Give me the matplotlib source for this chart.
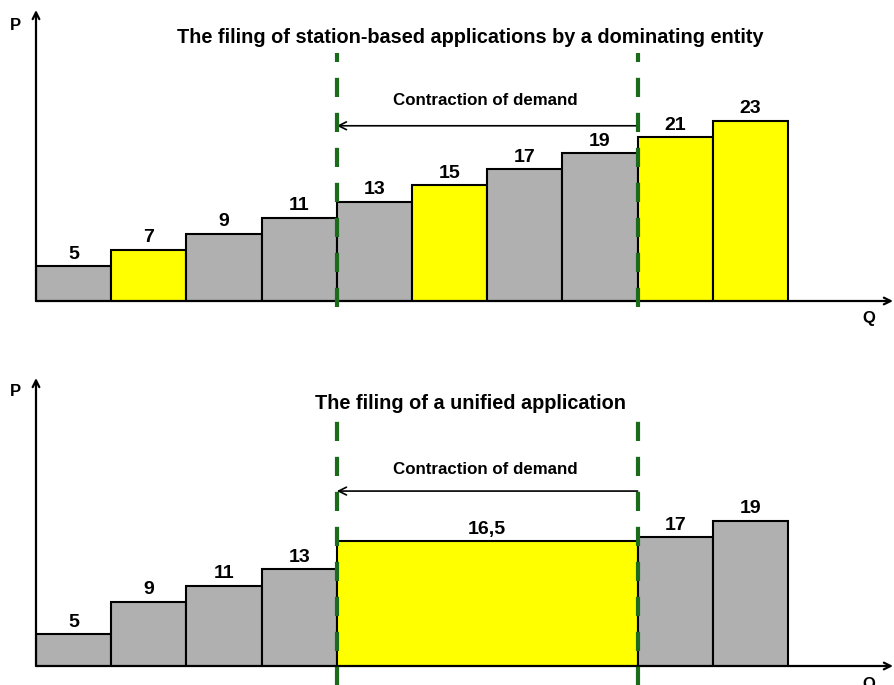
import matplotlib
matplotlib.use("Agg")
import matplotlib.pyplot as plt

plt.rcParams['font.family'] = ['Liberation Sans', 'DejaVu Sans']

# Upper panel: each applicant's bid as a separate bar
top_values = [5, 7, 9, 11, 13, 15, 17, 19, 21, 23]
top_labels = ["5", "7", "9", "11", "13", "15", "17", "19", "21", "23"]
top_widths = [1, 1, 1, 1, 1, 1, 1, 1, 1, 1]
top_yellow = [False, True, False, False, False, True, False, False, True, True]

# Lower panel: the dominating entity's bids merged into one application
bot_values = [5, 9, 11, 13, 16.5, 17, 19]
bot_labels = ["5", "9", "11", "13", "16,5", "17", "19"]
bot_widths = [1, 1, 1, 1, 4, 1, 1]
bot_yellow = [False, False, False, False, True, False, False]

titles = ["The filing of station-based applications by a dominating entity",
          "The filing of a unified application"]
band = (4, 8)

GRAY = "#b0b0b0"
YELLOW = "#ffff00"
GREEN = "#1b6b1b"

fig = plt.figure(figsize=(8.95, 6.85), dpi=100)

W, H = 895, 685
x0_px, x1_px = 36, 893
unit_px = 75.2


def make_axes(base_px, top_px, scale, base_val):
    ax = fig.add_axes([x0_px / W, (H - base_px) / H,
                       (x1_px - x0_px) / W, (base_px - top_px) / H])
    ax.set_xlim(0, (x1_px - x0_px) / unit_px)
    ax.set_ylim(base_val, base_val + (base_px - top_px) / scale)
    ax.set_axis_off()
    return ax


def draw_panel(ax, values, labels, widths, yellow, title, title_y, text_y, arrow_y,
               dash_lo, dash_hi, q_y, p_y):
    lefts = [sum(widths[:i]) for i in range(len(widths))]
    colors = [YELLOW if y else GRAY for y in yellow]
    ax.bar(lefts, values, width=widths, align='edge', color=colors,
           edgecolor='black', linewidth=1.5, zorder=2)
    for l, w, v, s in zip(lefts, widths, values, labels):
        ax.annotate(s, (l + w / 2, v), xytext=(0, 2.5), textcoords='offset points',
                    ha='center', va='bottom', fontsize=14, fontweight='bold', zorder=5)
    # axes with arrow heads
    ax.annotate("", xy=(0, 1), xytext=(0, 0), xycoords='axes fraction',
                arrowprops=dict(arrowstyle='->', lw=1.6, color='black',
                                shrinkA=0, shrinkB=0, mutation_scale=12),
                annotation_clip=False)
    ax.annotate("", xy=(1, 0), xytext=(0, 0), xycoords='axes fraction',
                arrowprops=dict(arrowstyle='->', lw=1.6, color='black',
                                shrinkA=0, shrinkB=0, mutation_scale=12),
                annotation_clip=False)
    ax.text(-0.28, p_y, "P", ha='center', va='center', fontsize=12,
            fontweight='bold', clip_on=False)
    ax.text(11.08, q_y, "Q", ha='center', va='center', fontsize=12,
            fontweight='bold', clip_on=False)
    # boundaries of the contraction band
    for xb in band:
        ax.plot([xb, xb], [dash_lo, dash_hi], color=GREEN, lw=3.0,
                linestyle=(0, (4.6, 3.8)), zorder=4, clip_on=False)
    ax.text(5.98, text_y, "Contraction of demand", ha='center',
            va='center', fontsize=12.2, fontweight='bold')
    ax.annotate("", xy=(band[0], arrow_y), xytext=(band[1], arrow_y),
                arrowprops=dict(arrowstyle='->', lw=1.2, color='black',
                                shrinkA=0, shrinkB=0, mutation_scale=14))
    ax.text(5.78, title_y, title, ha='center', va='center', fontsize=14.3,
            fontweight='bold')


# upper panel: baseline at 301 px, 8.06 px per unit
ax1 = make_axes(301, 10, 8.06, 0.66)
draw_panel(ax1, top_values, top_labels, top_widths, top_yellow, titles[0],
           title_y=33.4, text_y=25.5, arrow_y=22.4, dash_lo=-0.1, dash_hi=31.4,
           q_y=-1.45, p_y=34.9)

# lower panel: baseline at 666 px, 8.08 px per unit
ax2 = make_axes(666, 378, 8.08, 1.05)
draw_panel(ax2, bot_values, bot_labels, bot_widths, bot_yellow, titles[1],
           title_y=33.5, text_y=25.4, arrow_y=22.7, dash_lo=-2.5, dash_hi=31.4,
           q_y=-1.3, p_y=35.0)

fig.savefig("out.png", dpi=100)
